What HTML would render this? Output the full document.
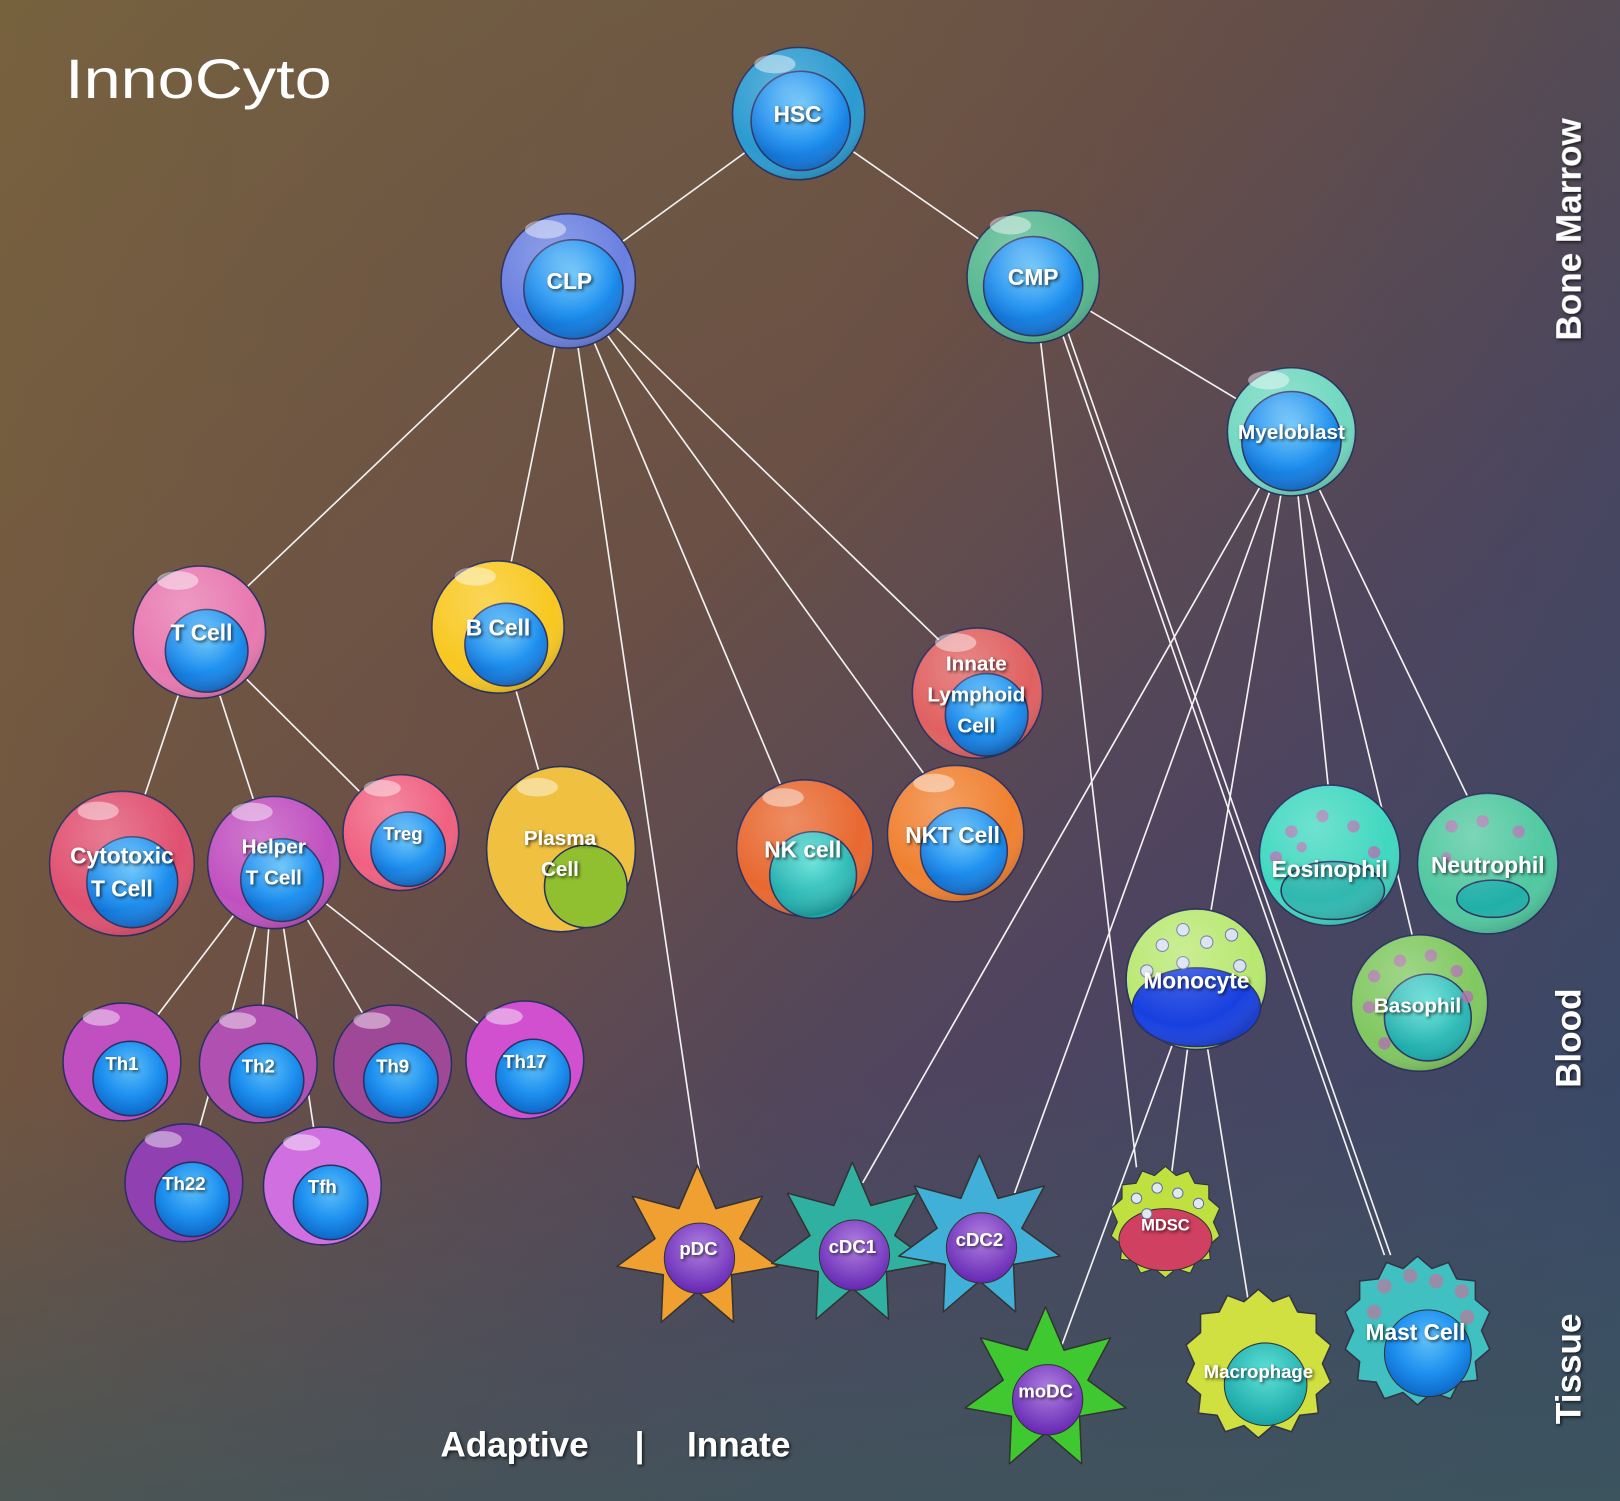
<!DOCTYPE html>
<html><head><meta charset="utf-8"><style>
html,body{margin:0;padding:0;width:1620px;height:1501px;overflow:hidden;background:#5a5050}
svg{display:block}
text{font-family:"Liberation Sans",sans-serif;font-weight:bold;fill:#fff;text-anchor:middle}
</style></head><body>
<svg width="1620" height="1501" viewBox="0 0 1568 1453" preserveAspectRatio="none" xmlns="http://www.w3.org/2000/svg">
<defs>
<linearGradient id="bg1" x1="0" y1="0" x2="1" y2="1">
<stop offset="0" stop-color="#766640"/><stop offset="0.4" stop-color="#6a5045"/><stop offset="0.65" stop-color="#4e4460"/><stop offset="1" stop-color="#2c4a70"/></linearGradient>
<linearGradient id="bg2" x1="0" y1="0" x2="1" y2="0">
<stop offset="0" stop-color="#7a5a3a" stop-opacity="0.35"/><stop offset="0.5" stop-color="#604050" stop-opacity="0"/><stop offset="1" stop-color="#3a4a60" stop-opacity="0.3"/></linearGradient>
<linearGradient id="bg3" x1="0" y1="0" x2="0" y2="1">
<stop offset="0.72" stop-color="#4a5858" stop-opacity="0"/><stop offset="1" stop-color="#405858" stop-opacity="0.7"/></linearGradient>
<radialGradient id="nuc" cx="0.5" cy="0.35" r="0.7"><stop offset="0" stop-color="#5ec0f8"/><stop offset="0.55" stop-color="#1e90f0"/><stop offset="1" stop-color="#0a60c0"/></radialGradient>
<radialGradient id="nucP" cx="0.5" cy="0.35" r="0.7"><stop offset="0" stop-color="#b080e0"/><stop offset="1" stop-color="#6020b0"/></radialGradient>
<radialGradient id="nucT" cx="0.5" cy="0.35" r="0.7"><stop offset="0" stop-color="#60e0d8"/><stop offset="1" stop-color="#10a0a0"/></radialGradient>
<radialGradient id="shade" cx="0.4" cy="0.3" r="0.75"><stop offset="0" stop-color="#fff" stop-opacity="0.25"/><stop offset="0.7" stop-color="#fff" stop-opacity="0"/><stop offset="1" stop-color="#000" stop-opacity="0.2"/></radialGradient>
<polygon id="star" points="0,-80 18,-38 63,-50 41,-9 78,18 33,26 35,72 0,42 -35,72 -33,26 -78,18 -41,-9 -63,-50 -18,-38" stroke-linejoin="round" stroke="#333" stroke-width="1.5"/>
<polygon id="spiky" points="0,-72 14,-60 30,-66 38,-50 56,-48 56,-30 70,-18 62,0 70,18 56,30 58,48 40,50 32,66 14,60 0,72 -14,60 -32,66 -40,50 -58,48 -56,30 -70,18 -62,0 -70,-18 -56,-30 -56,-48 -38,-50 -30,-66 -14,-60" stroke="#334" stroke-width="1.5" stroke-linejoin="round"/>
<filter id="ts" x="-20%" y="-20%" width="140%" height="140%"><feDropShadow dx="1.5" dy="1.5" stdDeviation="1.5" flood-color="#000" flood-opacity="0.7"/></filter>
</defs>
<rect width="1568" height="1453" fill="url(#bg1)"/>
<rect width="1568" height="1453" fill="url(#bg2)"/>
<rect width="1568" height="1453" fill="url(#bg3)"/>

<g stroke="#f2f2f2" stroke-width="1.6" fill="none">
<line x1="773" y1="110" x2="550" y2="272"/><line x1="773" y1="110" x2="1000" y2="268"/>
<line x1="550" y1="272" x2="193" y2="612"/><line x1="550" y1="272" x2="482" y2="607"/>
<line x1="550" y1="272" x2="678" y2="1140"/><line x1="550" y1="272" x2="760" y2="770"/>
<line x1="550" y1="272" x2="895" y2="750"/><line x1="550" y1="272" x2="930" y2="640"/>
<line x1="1000" y1="268" x2="1250" y2="418"/><line x1="1000" y1="268" x2="1100" y2="1130"/>
<line x1="1020" y1="300" x2="1340" y2="1215"/><line x1="1026" y1="300" x2="1346" y2="1215"/>
<line x1="1250" y1="418" x2="835" y2="1145"/><line x1="1250" y1="418" x2="982" y2="1155"/>
<line x1="1250" y1="418" x2="1172" y2="882"/><line x1="1250" y1="418" x2="1287" y2="775"/>
<line x1="1250" y1="418" x2="1368" y2="910"/><line x1="1250" y1="418" x2="1420" y2="770"/>
<line x1="193" y1="612" x2="118" y2="836"/><line x1="193" y1="612" x2="265" y2="835"/>
<line x1="193" y1="612" x2="388" y2="806"/><line x1="482" y1="607" x2="543" y2="822"/>
<line x1="265" y1="835" x2="118" y2="1028"/><line x1="265" y1="835" x2="250" y2="1030"/>
<line x1="265" y1="835" x2="380" y2="1030"/><line x1="265" y1="835" x2="508" y2="1026"/>
<line x1="265" y1="835" x2="178" y2="1145"/><line x1="265" y1="835" x2="312" y2="1148"/>
<line x1="1158" y1="948" x2="1012" y2="1345"/><line x1="1158" y1="948" x2="1128" y2="1183"/>
<line x1="1158" y1="948" x2="1218" y2="1320"/>
</g>

<g stroke="#2a3060" stroke-width="1.5">
<circle cx="773" cy="110" r="64" fill="#2a9ad0"/><circle cx="775" cy="117" r="48" fill="url(#nuc)"/>
<circle cx="550" cy="272" r="65" fill="#6a80e0"/><circle cx="555" cy="280" r="48" fill="url(#nuc)"/>
<circle cx="1000" cy="268" r="64" fill="#56b890"/><circle cx="1000" cy="277" r="48" fill="url(#nuc)"/>
<circle cx="1250" cy="418" r="62" fill="#70d8c0"/><circle cx="1250" cy="427" r="48" fill="url(#nuc)"/>
<circle cx="193" cy="612" r="64" fill="#e878b0"/><circle cx="200" cy="630" r="40" fill="url(#nuc)"/>
<circle cx="482" cy="607" r="64" fill="#f8c820"/><circle cx="490" cy="624" r="40" fill="url(#nuc)"/>
<circle cx="946" cy="671" r="63" fill="#e06060"/><circle cx="955" cy="692" r="40" fill="url(#nuc)"/>
<circle cx="118" cy="836" r="70" fill="#e05070"/><circle cx="128" cy="854" r="44" fill="url(#nuc)"/>
<circle cx="265" cy="835" r="64" fill="#c050c0"/><circle cx="273" cy="852" r="40" fill="url(#nuc)"/>
<circle cx="388" cy="806" r="56" fill="#f06080"/><circle cx="395" cy="822" r="36" fill="url(#nuc)"/>
<ellipse cx="543" cy="822" rx="72" ry="80" fill="#f0c040"/><circle cx="567" cy="858" r="40" fill="#90c030"/>
<circle cx="779" cy="821" r="66" fill="#e86830"/><circle cx="787" cy="847" r="42" fill="url(#nucT)"/>
<circle cx="925" cy="807" r="66" fill="#f08030"/><circle cx="933" cy="824" r="42" fill="url(#nuc)"/>
<circle cx="1287" cy="828" r="68" fill="#40d8c0"/><ellipse cx="1290" cy="862" rx="50" ry="28" fill="#30b8b0"/>
<circle cx="1440" cy="836" r="68" fill="#50c8a0"/><ellipse cx="1445" cy="870" rx="35" ry="18" fill="#20b0a8"/>
<circle cx="1158" cy="948" r="68" fill="#b8e870"/><ellipse cx="1158" cy="975" rx="62" ry="38" fill="#1840e0"/>
<circle cx="1374" cy="971" r="66" fill="#80c860"/><circle cx="1382" cy="985" r="42" fill="url(#nucT)"/>
<circle cx="118" cy="1028" r="57" fill="#c050c0"/><circle cx="126" cy="1044" r="36" fill="url(#nuc)"/>
<circle cx="250" cy="1030" r="57" fill="#b050b0"/><circle cx="258" cy="1046" r="36" fill="url(#nuc)"/>
<circle cx="380" cy="1030" r="57" fill="#a04898"/><circle cx="388" cy="1046" r="36" fill="url(#nuc)"/>
<circle cx="508" cy="1026" r="57" fill="#d050d0"/><circle cx="516" cy="1042" r="36" fill="url(#nuc)"/>
<circle cx="178" cy="1145" r="57" fill="#9040b0"/><circle cx="186" cy="1161" r="36" fill="url(#nuc)"/>
<circle cx="312" cy="1148" r="57" fill="#d070e0"/><circle cx="320" cy="1164" r="36" fill="url(#nuc)"/>
</g>
<g fill="#b070b0" opacity="0.8">
<circle cx="1250" cy="805" r="6"/><circle cx="1280" cy="790" r="6"/><circle cx="1310" cy="800" r="6"/><circle cx="1235" cy="830" r="6"/><circle cx="1330" cy="825" r="6"/><circle cx="1260" cy="820" r="5"/>
<circle cx="1405" cy="800" r="6"/><circle cx="1435" cy="795" r="6"/><circle cx="1470" cy="805" r="6"/><circle cx="1400" cy="830" r="5"/>
<circle cx="1330" cy="945" r="6"/><circle cx="1355" cy="930" r="6"/><circle cx="1385" cy="925" r="6"/><circle cx="1410" cy="940" r="6"/><circle cx="1325" cy="975" r="6"/><circle cx="1420" cy="965" r="6"/><circle cx="1340" cy="1010" r="6"/>
</g>
<g fill="#d8e0f0" stroke="#6070a0" stroke-width="1">
<circle cx="1125" cy="915" r="6"/><circle cx="1145" cy="900" r="6"/><circle cx="1168" cy="912" r="6"/><circle cx="1192" cy="905" r="6"/><circle cx="1110" cy="940" r="6"/><circle cx="1200" cy="935" r="6"/><circle cx="1145" cy="932" r="6"/>
</g>

<use href="#star" x="675" y="1208" fill="#f0a030"/><circle cx="677" cy="1218" r="34" fill="url(#nucP)" stroke="#333"/>
<use href="#star" x="825" y="1205" fill="#30b0a0"/><circle cx="827" cy="1215" r="34" fill="url(#nucP)" stroke="#333"/>
<use href="#star" x="948" y="1198" fill="#40b0d8"/><circle cx="950" cy="1208" r="34" fill="url(#nucP)" stroke="#333"/>
<use href="#star" x="1012" y="1345" fill="#40c830"/><circle cx="1014" cy="1355" r="34" fill="url(#nucP)" stroke="#333"/>
<g transform="translate(1128 1183) scale(0.75)"><use href="#spiky" fill="#c0e040"/></g>
<ellipse cx="1128" cy="1200" rx="45" ry="30" fill="#d04060" stroke="#333"/>
<g fill="#e0e8f0" stroke="#6070a0"><circle cx="1100" cy="1160" r="5"/><circle cx="1120" cy="1150" r="5"/><circle cx="1140" cy="1155" r="5"/><circle cx="1160" cy="1165" r="5"/><circle cx="1110" cy="1175" r="5"/></g>
<g transform="translate(1218 1320)"><use href="#spiky" fill="#d0e040"/></g>
<circle cx="1225" cy="1340" r="40" fill="url(#nucT)" stroke="#333"/>
<g transform="translate(1372 1288)"><use href="#spiky" fill="#40c0c0"/></g>
<circle cx="1382" cy="1310" r="42" fill="url(#nuc)" stroke="#333"/>
<g fill="#b080a0" opacity="0.8"><circle cx="1340" cy="1245" r="7"/><circle cx="1365" cy="1235" r="7"/><circle cx="1390" cy="1240" r="7"/><circle cx="1415" cy="1250" r="7"/><circle cx="1330" cy="1270" r="7"/><circle cx="1420" cy="1275" r="7"/></g>

<g fill="url(#shade)">
<circle cx="773" cy="110" r="64"/><circle cx="550" cy="272" r="65"/><circle cx="1000" cy="268" r="64"/><circle cx="1250" cy="418" r="62"/>
<circle cx="193" cy="612" r="64"/><circle cx="482" cy="607" r="64"/><circle cx="946" cy="671" r="63"/><circle cx="118" cy="836" r="70"/>
<circle cx="265" cy="835" r="64"/><circle cx="388" cy="806" r="56"/><circle cx="779" cy="821" r="66"/><circle cx="925" cy="807" r="66"/>
<circle cx="1287" cy="828" r="68"/><circle cx="1440" cy="836" r="68"/><circle cx="1158" cy="948" r="68"/><circle cx="1374" cy="971" r="66"/>
</g>
<g fill="#fff" opacity="0.45">
<ellipse cx="750" cy="62" rx="20" ry="9"/><ellipse cx="528" cy="222" rx="20" ry="9"/><ellipse cx="978" cy="218" rx="20" ry="9"/><ellipse cx="1228" cy="368" rx="20" ry="9"/>
<ellipse cx="172" cy="562" rx="20" ry="9"/><ellipse cx="460" cy="558" rx="20" ry="9"/><ellipse cx="925" cy="622" rx="20" ry="9"/><ellipse cx="95" cy="785" rx="20" ry="9"/>
<ellipse cx="244" cy="786" rx="20" ry="9"/><ellipse cx="370" cy="763" rx="18" ry="8"/><ellipse cx="520" cy="762" rx="20" ry="9"/><ellipse cx="758" cy="772" rx="20" ry="9"/><ellipse cx="904" cy="758" rx="20" ry="9"/>
<ellipse cx="98" cy="985" rx="18" ry="8"/><ellipse cx="230" cy="988" rx="18" ry="8"/><ellipse cx="360" cy="988" rx="18" ry="8"/><ellipse cx="488" cy="984" rx="18" ry="8"/><ellipse cx="158" cy="1103" rx="18" ry="8"/><ellipse cx="292" cy="1106" rx="18" ry="8"/>
</g>

<g filter="url(#ts)" font-size="22">
<text x="772" y="118">HSC</text><text x="551" y="280">CLP</text><text x="1000" y="276">CMP</text><text x="1250" y="425" font-size="20">Myeloblast</text>
<text x="195" y="620">T Cell</text><text x="482" y="615">B Cell</text>
<text x="945" y="649" font-size="20">Innate</text><text x="945" y="679" font-size="20">Lymphoid</text><text x="945" y="709" font-size="20">Cell</text>
<text x="118" y="836">Cytotoxic</text><text x="118" y="868">T Cell</text>
<text x="265" y="826" font-size="20">Helper</text><text x="265" y="856" font-size="20">T Cell</text>
<text x="390" y="813" font-size="18">Treg</text>
<text x="542" y="818" font-size="20">Plasma</text><text x="542" y="848" font-size="20">Cell</text>
<text x="777" y="830">NK cell</text><text x="922" y="816">NKT Cell</text>
<text x="1287" y="849">Eosinophil</text><text x="1440" y="845">Neutrophil</text>
<text x="1158" y="957">Monocyte</text><text x="1372" y="980" font-size="20">Basophil</text>
<text x="118" y="1036" font-size="18">Th1</text><text x="250" y="1038" font-size="18">Th2</text><text x="380" y="1038" font-size="18">Th9</text><text x="508" y="1034" font-size="18">Th17</text>
<text x="178" y="1152" font-size="18">Th22</text><text x="312" y="1155" font-size="18">Tfh</text>
<text x="676" y="1215" font-size="18">pDC</text><text x="825" y="1213" font-size="18">cDC1</text><text x="948" y="1206" font-size="18">cDC2</text>
<text x="1012" y="1353" font-size="18">moDC</text><text x="1128" y="1191" font-size="16">MDSC</text>
<text x="1218" y="1334" font-size="18">Macrophage</text><text x="1370" y="1297">Mast Cell</text>
<text x="1530" y="222" font-size="34" transform="rotate(-90 1530 222)">Bone Marrow</text>
<text x="1530" y="1005" font-size="34" transform="rotate(-90 1530 1005)">Blood</text>
<text x="1530" y="1325" font-size="34" transform="rotate(-90 1530 1325)">Tissue</text>
<text x="498" y="1410" font-size="34">Adaptive</text><text x="619" y="1410" font-size="34">|</text><text x="715" y="1410" font-size="34">Innate</text>
</g>
<text x="192" y="95" font-size="54" style="font-weight:normal" textLength="258" lengthAdjust="spacingAndGlyphs">InnoCyto</text>
</svg>
</body></html>
